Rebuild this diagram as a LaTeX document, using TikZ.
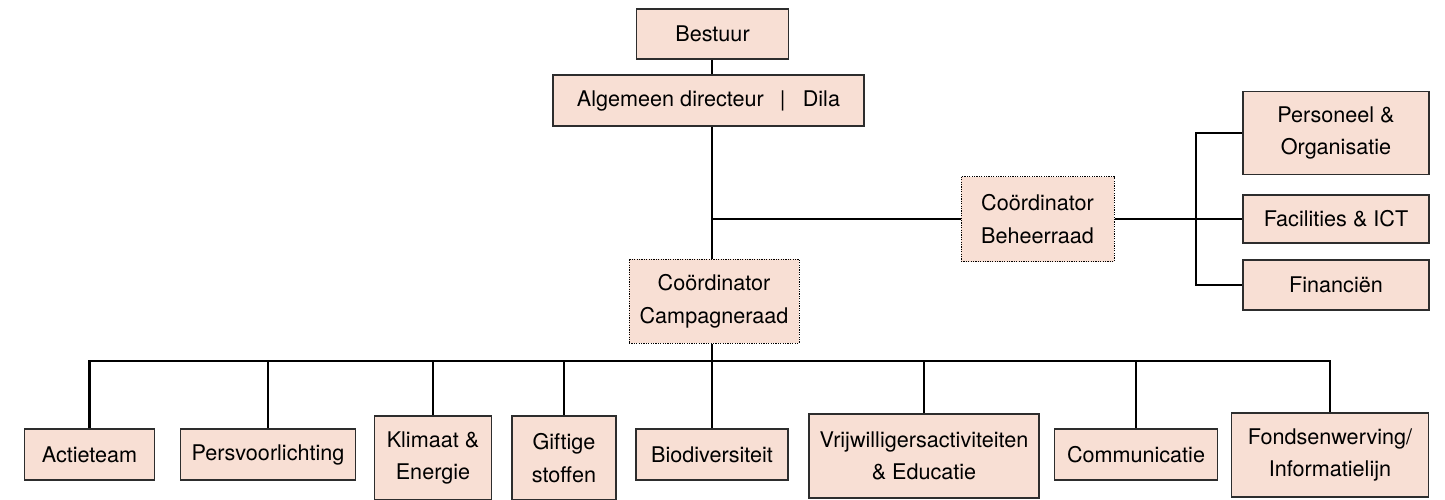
\documentclass[tikz,border=0pt]{standalone}
\usepackage{fontspec}
\setmainfont{TeX Gyre Heros}
\definecolor{boxfill}{RGB}{248,223,212}
\definecolor{boxline}{RGB}{45,45,45}

\begin{document}
\begin{tikzpicture}[x = 0.5pt, y = -0.5pt,
	unit/.style = {draw = boxline, fill = boxfill, line width = 0.7pt,
				   shape = rectangle, align = center, inner sep = 2pt,
				   font = \fontsize{10.8}{16.3}\selectfont},
	coord/.style = {unit, draw = black, line width = 0.5pt,
					dash pattern = on 0.6pt off 0.6pt},
	link/.style = {draw = black, line width = 1.45pt}]
	\useasboundingbox (0, 0) rectangle (1445, 499);

	% top of the tree
	\draw (712.5, 34) node[unit,
					  minimum width = 76pt,
					  minimum height = 25pt
			   ](bestuur){Bestuur};
	\draw (708.5, 100.5) node[unit,
					  minimum width = 155.5pt,
					  minimum height = 25.5pt
			   ](algemeen){Algemeen directeur\hspace{0.75em}|\hspace{0.8em}Dila};
	\draw (1037.5, 219) node[coord,
					  minimum width = 76.5pt,
					  minimum height = 42.5pt
			   ](beheer){Coördinator\\Beheerraad};
	\draw (714, 301) node[coord,
					  minimum width = 85pt,
					  minimum height = 42pt
			   ](campagne){Coördinator\\Campagneraad};

	% beheerraad
	\draw (1336, 133) node[unit,
					  minimum width = 93pt,
					  minimum height = 41.5pt
			   ](pers){Personeel \&\\Organisatie};
	\draw (1336, 219) node[unit,
					  minimum width = 93pt,
					  minimum height = 24pt
			   ](fac){Facilities \& ICT};
	\draw (1336, 285) node[unit,
					  minimum width = 93pt,
					  minimum height = 25pt
			   ](fin){Financiën};

	% campagneraad
	\draw (89.5, 454.5) node[unit,
					  minimum width = 65pt,
					  minimum height = 25.5pt
			   ](actie){Actieteam};
	\draw (268, 454.5) node[unit,
					  minimum width = 87.5pt,
					  minimum height = 25.5pt
			   ](persv){Persvoorlichting};
	\draw (433, 458) node[unit,
					  minimum width = 58.5pt,
					  minimum height = 42pt
			   ](klimaat){Klimaat \&\\Energie};
	\draw (564, 458) node[unit,
					  minimum width = 52pt,
					  minimum height = 42pt
			   ](giftig){Giftige\\stoffen};
	\draw (712, 454.5) node[unit,
					  minimum width = 76pt,
					  minimum height = 25.5pt
			   ](biodiv){Biodiversiteit};
	\draw (924, 456) node[unit,
					  minimum width = 115pt,
					  minimum height = 42pt
			   ](vrijw){Vrijwilligersactiviteiten\\\& Educatie};
	\draw (1136, 454.5) node[unit,
					  minimum width = 81.5pt,
					  minimum height = 25.5pt
			   ](comm){Communicatie};
	\draw (1330, 455) node[unit,
					  minimum width = 98.5pt,
					  minimum height = 42pt
			   ](fonds){Fondsenwerving/\\Informatielijn};

	\coordinate (bus) at (712, 361);
	\coordinate (fork) at (1196, 219);

	\draw[link] (bus |- bestuur.south) -- (bus |- algemeen.north);
	\draw[link] (bus |- algemeen.south) -- (bus |- campagne.north);
	\draw[link] (bus |- campagne.south) -- (bus);

	\draw[link] (bus |- beheer.west) -- (beheer.west);
	\draw[link] (beheer.east) -- (fac.west);
	\draw[link] (pers.west) -| (fork) |- (fin.west);

	\draw[link] (actie.north) |- (fonds.north |- bus) -- (fonds.north);
	\foreach \team in {persv, klimaat, giftig, biodiv, vrijw, comm}
		\draw[link] (\team.north |- bus) -- (\team.north);
\end{tikzpicture}
\end{document}
